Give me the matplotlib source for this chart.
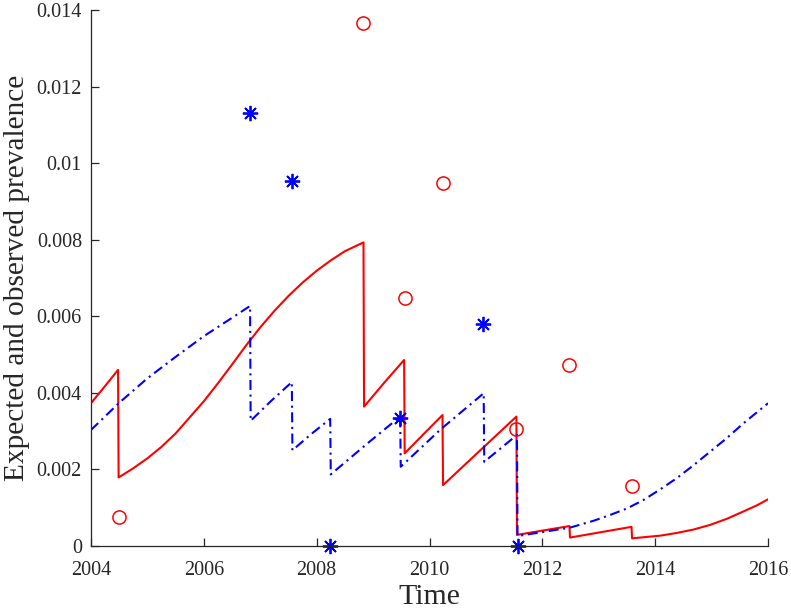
import numpy as np
import matplotlib.pyplot as plt
from matplotlib.ticker import FixedLocator, FixedFormatter

# expected prevalence, model 1 (red solid)
red_t = [2004.0, 2004.24, 2004.48, 2004.49, 2004.75, 2005.0, 2005.25, 2005.5, 2005.75,
         2006.0, 2006.25, 2006.5, 2006.75, 2007.0, 2007.25, 2007.5, 2007.75, 2008.0,
         2008.25, 2008.5, 2008.83, 2008.84, 2009.2, 2009.55, 2009.56, 2009.9, 2010.23,
         2010.24, 2010.9, 2011.54, 2011.55, 2012.48, 2012.49, 2013.58, 2013.59, 2014.09,
         2014.38, 2014.68, 2014.97, 2015.27, 2015.56, 2015.8, 2016.0]
red_y = [0.00373, 0.00416, 0.00460, 0.00179, 0.00203, 0.00229, 0.00259, 0.00294, 0.00336,
         0.00378, 0.00425, 0.00474, 0.00524, 0.00571, 0.00614, 0.00653, 0.00688, 0.00719,
         0.00746, 0.00770, 0.00793, 0.00364, 0.00427, 0.00486, 0.00242, 0.00293, 0.00342,
         0.00159, 0.00250, 0.00338, 0.00029, 0.00052, 0.00022, 0.00050, 0.00020, 0.00027,
         0.00034, 0.00043, 0.00055, 0.00071, 0.00090, 0.00106, 0.00122]

# expected prevalence, model 2 (blue dash-dot)
blue_t = [2004.0, 2004.5, 2005.0, 2005.5, 2006.0, 2006.5, 2006.82, 2006.83, 2007.2,
          2007.56, 2007.57, 2007.9, 2008.24, 2008.25, 2008.9, 2009.48, 2009.49, 2010.2,
          2010.96, 2010.97, 2011.55, 2011.56, 2012.49, 2012.91, 2013.2, 2013.5, 2013.79,
          2014.09, 2014.38, 2014.68, 2014.97, 2015.27, 2015.56, 2016.0]
blue_y = [0.00303, 0.00374, 0.00438, 0.00494, 0.00548, 0.00596, 0.00627, 0.00327, 0.00380,
          0.00428, 0.00250, 0.00292, 0.00332, 0.00187, 0.00268, 0.00338, 0.00207, 0.00305,
          0.00399, 0.00220, 0.00290, 0.00026, 0.00048, 0.00066, 0.00081, 0.00098, 0.00120,
          0.00148, 0.00177, 0.00211, 0.00246, 0.00282, 0.00320, 0.00373]

# observed prevalence
obs_red_t = [2004.5, 2008.83, 2009.57, 2010.24, 2011.54, 2012.48, 2013.58]
obs_red_y = [0.00077, 0.01366, 0.00647, 0.00948, 0.00305, 0.00472, 0.00157]
obs_blue_t = [2006.82, 2007.56, 2008.24, 2009.48, 2010.95, 2011.56]
obs_blue_y = [0.01131, 0.00953, 0.0, 0.00334, 0.00581, 0.0]

yticks = [0, 0.002, 0.004, 0.006, 0.008, 0.01, 0.012, 0.014]
xticks = [2004, 2006, 2008, 2010, 2012, 2014, 2016]


def prevalence_plot():
    plt.rcParams['font.family'] = ['Liberation Serif', 'DejaVu Serif']
    fig = plt.figure(figsize=(7.91, 6.11), dpi=100)
    ax = fig.add_axes([0.115, 0.1064, 0.856, 0.8772])

    ax.plot(red_t, red_y, color='#ff0000', lw=1.5)
    ax.plot(blue_t, blue_y, color='#0000ff', lw=1.5, linestyle=(0, (4.8, 2.2, 1.0, 2.2)))
    ax.plot(obs_red_t, obs_red_y, 'o', color='#ff0000', mfc='none', ms=9.5, mew=1.1,
            linestyle='none', clip_on=False)
    ax.plot(obs_blue_t, obs_blue_y, linestyle='none', marker=(8, 2, 0), color='#0000ff',
            ms=11, mew=1.3, clip_on=False)

    ax.set_xlim(2004, 2016)
    ax.set_ylim(0, 0.014)
    ax.xaxis.set_major_locator(FixedLocator(xticks))
    ax.yaxis.set_major_locator(FixedLocator(yticks))
    ax.yaxis.set_major_formatter(FixedFormatter(['%g' % v for v in yticks]))

    for side in ['top', 'right']:
        ax.spines[side].set_visible(False)
    for side in ['left', 'bottom']:
        ax.spines[side].set_color('#262626')
        ax.spines[side].set_linewidth(0.9)
    ax.tick_params(direction='in', length=6, width=0.9, colors='#262626', labelsize=14.5)
    ax.tick_params(axis='x', pad=10.5)
    ax.tick_params(axis='y', pad=6.5)

    ax.set_xlabel('Time', fontsize=21.5, color='#262626', labelpad=3)
    ax.set_ylabel('Expected and observed prevalence', fontsize=21.2, color='#262626', labelpad=5)

    fig.savefig('out.png', dpi=100)


if __name__ == "__main__":
    prevalence_plot()
